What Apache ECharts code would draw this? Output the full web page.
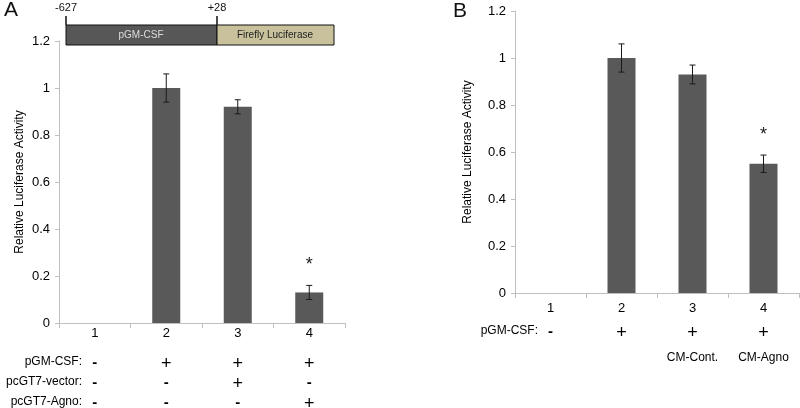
<!DOCTYPE html>
<html><head><meta charset="utf-8">
<script src="https://cdn.jsdelivr.net/npm/echarts@6/dist/echarts.min.js"></script>
<style>html,body{margin:0;padding:0;background:#fff}#c{width:800px;height:408px}</style>
</head><body><div id="c"></div>
<script>
// Panel A data
const catsA = ['1', '2', '3', '4'];
const valsA = [0, 1.0, 0.92, 0.13];
const errA = [0, 0.06, 0.03, 0.03];
const sigA = ['', '', '', '*'];
const rowGmA = ['-', '+', '+', '+'];
const rowVecA = ['-', '-', '+', '-'];
const rowAgnoA = ['-', '-', '-', '+'];
// Panel B data
const catsB = ['1', '2', '3', '4'];
const valsB = [0, 1.0, 0.93, 0.55];
const errB = [0, 0.06, 0.04, 0.037];
const sigB = ['', '', '', '*'];
const rowGmB = ['-', '+', '+', '+'];
const rowCmB = ['', '', 'CM-Cont.', 'CM-Agno'];
// Axis
const yMin = 0, yMax = 1.2, yStep = 0.2;

const FONT = 'Liberation Sans, Arial, sans-serif';
const BAR = '#595959';
const AX = '#bfbfbf';

const chart = echarts.init(document.getElementById('c'));

function rowAxis(gridIndex, data, offset) {
  return {
    type: 'category', gridIndex, data, position: 'bottom', offset,
    axisLine: {show: false}, axisTick: {show: false}, splitLine: {show: false},
    axisLabel: {
      color: '#000', fontFamily: FONT, fontSize: 15, interval: 0, margin: 0,
      formatter: v => v === '-' ? '{m|-}' : (v === '+' ? '{p|+}' : '{t|' + v + '}'),
      rich: {
        m: {fontSize: 15, fontWeight: 'bold', fontFamily: FONT, color: '#000'},
        p: {fontSize: 18, fontFamily: FONT, color: '#000'},
        t: {fontSize: 12, fontFamily: FONT, color: '#000'}
      }
    }
  };
}
function mainX(gridIndex, data, margin) {
  return {
    type: 'category', gridIndex, data,
    axisLine: {lineStyle: {color: AX, width: 1}},
    axisTick: {show: true, length: 5, lineStyle: {color: AX}},
    axisLabel: {color: '#000', fontFamily: FONT, fontSize: 13, margin}
  };
}
function mainY(gridIndex, nameGap) {
  return {
    type: 'value', gridIndex, min: yMin, max: yMax, interval: yStep,
    name: 'Relative Luciferase Activity', nameLocation: 'middle', nameRotate: 90, nameGap,
    nameTextStyle: {color: '#000', fontFamily: FONT, fontSize: 12},
    axisLine: {show: true, lineStyle: {color: AX}},
    axisTick: {show: true, length: 4, lineStyle: {color: AX}},
    splitLine: {show: false},
    axisLabel: {color: '#000', fontFamily: FONT, fontSize: 13, margin: 9}
  };
}
function errSeries(xi, yi, vals, errs, sigs) {
  return {
    type: 'custom', xAxisIndex: xi, yAxisIndex: yi, z: 10,
    data: vals.map((v, i) => [i, v - errs[i], v + errs[i], sigs[i]]),
    renderItem: (params, api) => {
      const i = api.value(0);
      if (errs[i] === 0) return null;
      const lo = api.coord([i, api.value(1)]);
      const hi = api.coord([i, api.value(2)]);
      const w = 3;
      const st = {stroke: '#1a1a1a', lineWidth: 1};
      const children = [
        {type: 'line', shape: {x1: hi[0], y1: hi[1], x2: lo[0], y2: lo[1]}, style: st},
        {type: 'line', shape: {x1: hi[0] - w, y1: hi[1], x2: hi[0] + w, y2: hi[1]}, style: st},
        {type: 'line', shape: {x1: lo[0] - w, y1: lo[1], x2: lo[0] + w, y2: lo[1]}, style: st}
      ];
      if (sigs[i]) {
        children.push({type: 'text', x: hi[0], y: hi[1] - 20,
          style: {text: sigs[i], fontSize: 18, fontFamily: FONT, fill: '#222', align: 'center', verticalAlign: 'middle'}});
      }
      return {type: 'group', children};
    }
  };
}

const option = {
  backgroundColor: '#fff',
  animation: false,
  grid: [
    {left: 59, right: 455, top: 41, bottom: 85, containLabel: false, outerBoundsMode: 'none'},
    {left: 515, right: 1, top: 11, bottom: 115, containLabel: false, outerBoundsMode: 'none'}
  ],
  xAxis: [
    mainX(0, catsA, 4),
    rowAxis(0, rowGmA, 32),
    rowAxis(0, rowVecA, 52),
    rowAxis(0, rowAgnoA, 72),
    mainX(1, catsB, 9),
    rowAxis(1, rowGmB, 31),
    rowAxis(1, rowCmB, 59)
  ],
  yAxis: [mainY(0, 33), mainY(1, 41)],
  series: [
    {type: 'bar', xAxisIndex: 0, yAxisIndex: 0, data: valsA, barWidth: 28, itemStyle: {color: BAR}},
    errSeries(0, 0, valsA, errA, sigA),
    {type: 'bar', xAxisIndex: 4, yAxisIndex: 1, data: valsB, barWidth: 28, itemStyle: {color: BAR}},
    errSeries(4, 1, valsB, errB, sigB)
  ],
  graphic: [
    {type: 'text', left: 4, top: 0, style: {text: 'A', fontSize: 21, fontFamily: FONT, fill: '#111'}},
    {type: 'text', left: 453, top: 1, style: {text: 'B', fontSize: 21, fontFamily: FONT, fill: '#111'}},
    // promoter construct schematic
    {type: 'rect', shape: {x: 66, y: 25, width: 151, height: 20}, style: {fill: '#575757', stroke: '#111', lineWidth: 1}},
    {type: 'rect', shape: {x: 217, y: 25, width: 117, height: 20}, style: {fill: '#c8c19c', stroke: '#111', lineWidth: 1}},
    {type: 'line', shape: {x1: 66, y1: 16, x2: 66, y2: 25}, style: {stroke: '#111', lineWidth: 1.5}},
    {type: 'line', shape: {x1: 217, y1: 16, x2: 217, y2: 25}, style: {stroke: '#111', lineWidth: 1.5}},
    {type: 'text', x: 66, y: 8, style: {text: '-627', fontSize: 11, fontFamily: FONT, fill: '#111', align: 'center', verticalAlign: 'middle'}},
    {type: 'text', x: 217, y: 8, style: {text: '+28', fontSize: 11, fontFamily: FONT, fill: '#111', align: 'center', verticalAlign: 'middle'}},
    {type: 'text', x: 141, y: 35, style: {text: 'pGM-CSF', fontSize: 10, fontFamily: FONT, fill: '#ddd', align: 'center', verticalAlign: 'middle'}},
    {type: 'text', x: 275, y: 35, style: {text: 'Firefly Luciferase', fontSize: 10, fontFamily: FONT, fill: '#222', align: 'center', verticalAlign: 'middle'}},
    // row headers
    {type: 'text', x: 82, y: 362, style: {text: 'pGM-CSF:', fontSize: 12, fontFamily: FONT, fill: '#000', align: 'right', verticalAlign: 'middle'}},
    {type: 'text', x: 82, y: 382, style: {text: 'pcGT7-vector:', fontSize: 12, fontFamily: FONT, fill: '#000', align: 'right', verticalAlign: 'middle'}},
    {type: 'text', x: 82, y: 402, style: {text: 'pcGT7-Agno:', fontSize: 12, fontFamily: FONT, fill: '#000', align: 'right', verticalAlign: 'middle'}},
    {type: 'text', x: 538, y: 331, style: {text: 'pGM-CSF:', fontSize: 12, fontFamily: FONT, fill: '#000', align: 'right', verticalAlign: 'middle'}}
  ]
};
chart.setOption(option);
</script></body></html>
